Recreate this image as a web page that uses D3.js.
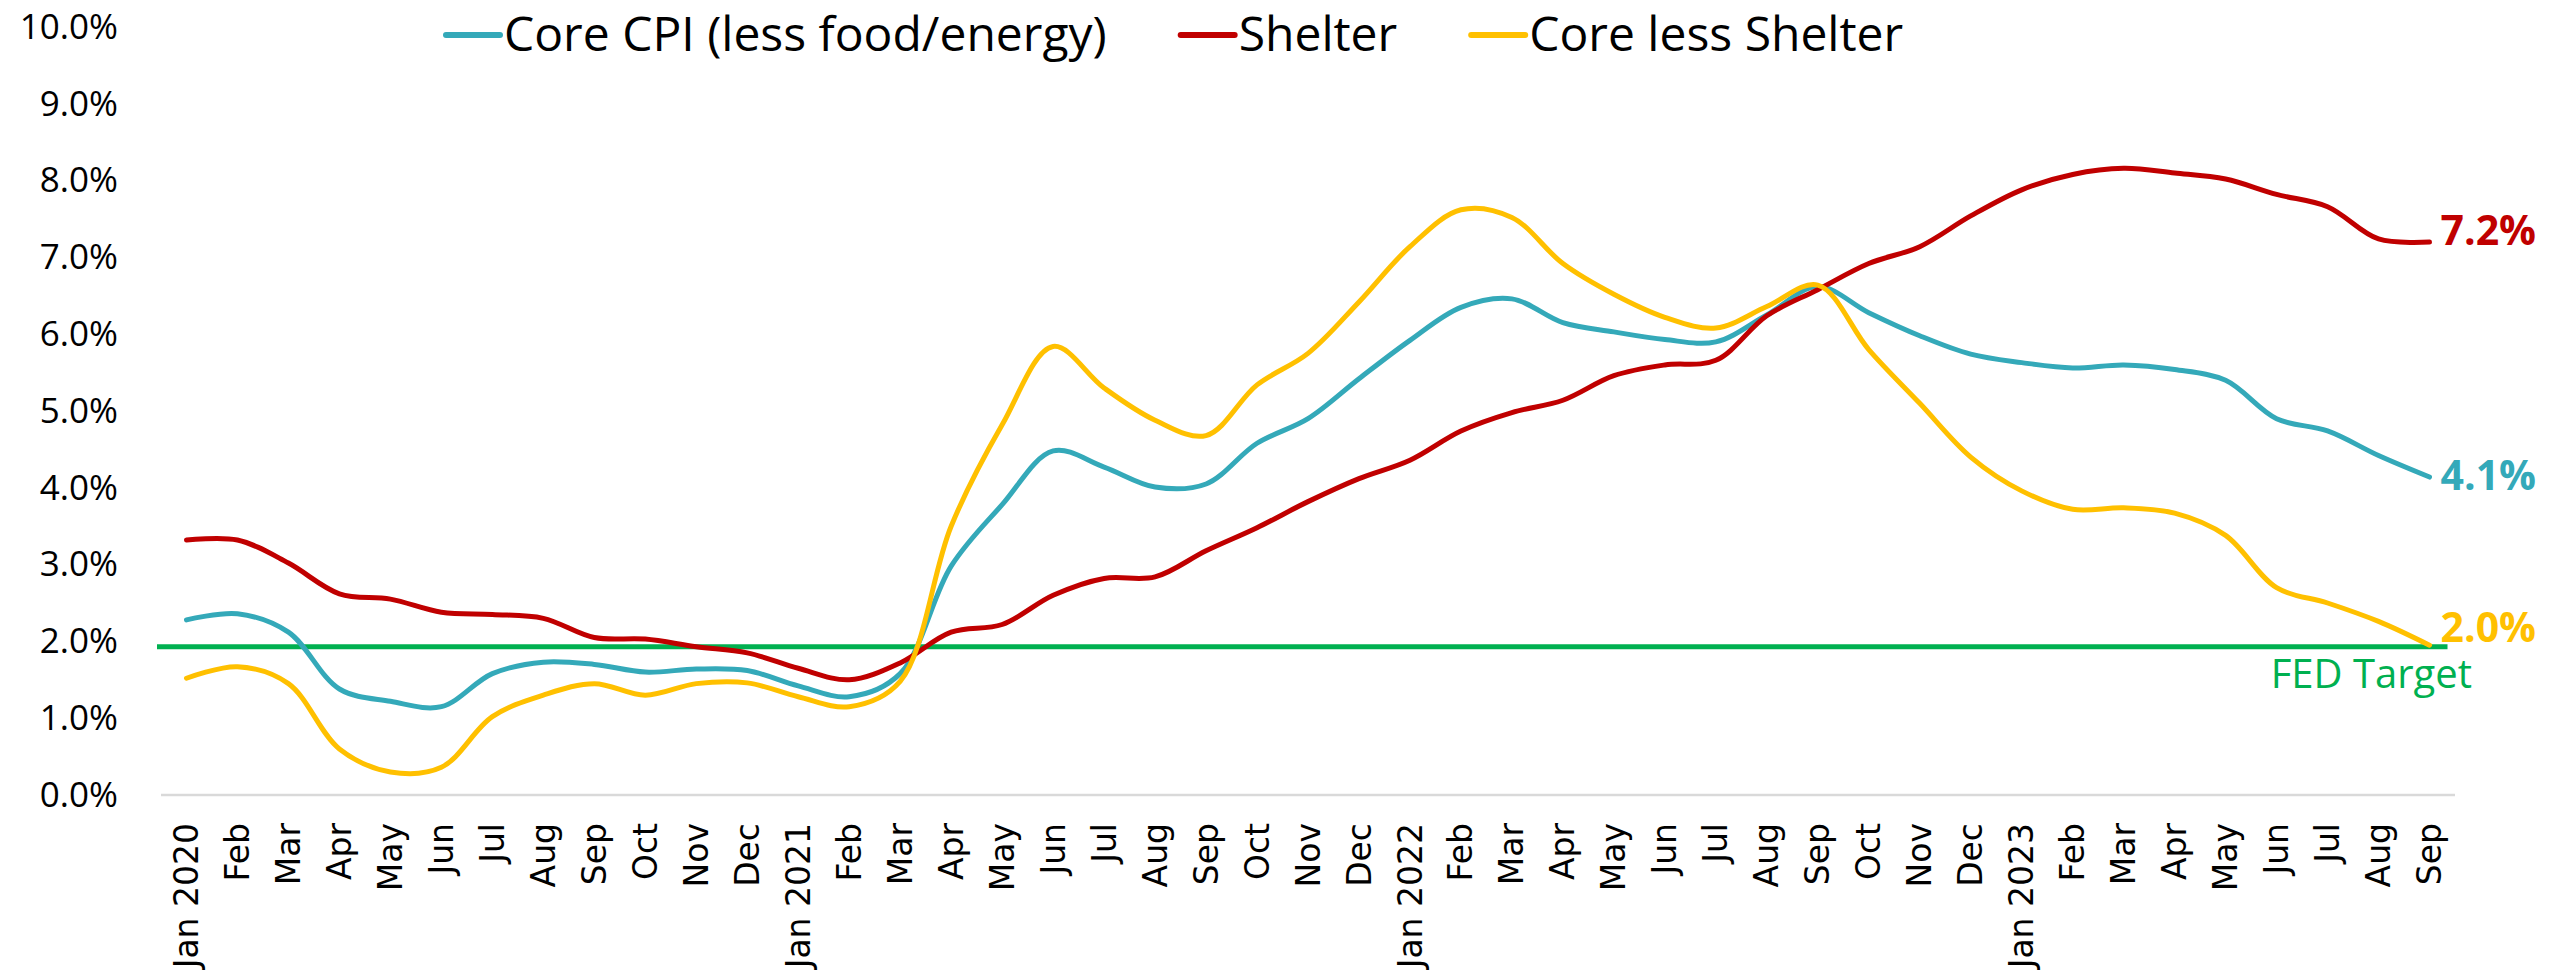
<!DOCTYPE html>
<html>
<head>
<meta charset="utf-8">
<script src="https://cdn.jsdelivr.net/npm/d3@7"></script>
<style>
  body { margin: 0; background: #fff; }
  svg { display: block; }
</style>
</head>
<body>
<div id="container"></div>
<script>
let width = 2552;
let height = 976;

// months Jan 2020 .. Sep 2023
let months = ["Jan 2020", "Feb", "Mar", "Apr", "May", "Jun", "Jul", "Aug", "Sep", "Oct", "Nov", "Dec",
  "Jan 2021", "Feb", "Mar", "Apr", "May", "Jun", "Jul", "Aug", "Sep", "Oct", "Nov", "Dec",
  "Jan 2022", "Feb", "Mar", "Apr", "May", "Jun", "Jul", "Aug", "Sep", "Oct", "Nov", "Dec",
  "Jan 2023", "Feb", "Mar", "Apr", "May", "Jun", "Jul", "Aug", "Sep"];

let coreCpi = [2.28, 2.36, 2.12, 1.38, 1.22, 1.15, 1.58, 1.73, 1.70, 1.60, 1.64, 1.62,
  1.42, 1.28, 1.58, 2.98, 3.78, 4.48, 4.27, 4.01, 4.05, 4.58, 4.90, 5.42,
  5.92, 6.35, 6.46, 6.15, 6.03, 5.93, 5.90, 6.25, 6.62, 6.28, 5.98, 5.74,
  5.63, 5.56, 5.60, 5.54, 5.40, 4.90, 4.74, 4.42, 4.14];

let shelter = [3.32, 3.32, 3.02, 2.62, 2.55, 2.38, 2.35, 2.30, 2.05, 2.03, 1.93, 1.85,
  1.65, 1.50, 1.72, 2.12, 2.22, 2.60, 2.82, 2.84, 3.18, 3.48, 3.82, 4.12,
  4.36, 4.74, 4.98, 5.14, 5.46, 5.60, 5.66, 6.24, 6.58, 6.92, 7.14, 7.54,
  7.88, 8.08, 8.16, 8.10, 8.02, 7.82, 7.66, 7.24, 7.20];

let coreLessShelter = [1.52, 1.67, 1.45, 0.60, 0.30, 0.36, 1.02, 1.30, 1.45, 1.30, 1.45, 1.46,
  1.28, 1.15, 1.48, 3.50, 4.82, 5.84, 5.30, 4.88, 4.68, 5.34, 5.75, 6.42,
  7.14, 7.62, 7.52, 6.92, 6.52, 6.22, 6.08, 6.36, 6.64, 5.80, 5.10, 4.40,
  3.96, 3.72, 3.74, 3.67, 3.38, 2.70, 2.50, 2.26, 1.95];

let seriesNames = ["Core CPI (less food/energy)", "Shelter", "Core less Shelter"];
let seriesColors = ["#34A9B9", "#C00000", "#FFC000"];
let endLabels = ["4.1%", "7.2%", "2.0%"];
let endLabelDy = [13, 3, -3];

let yTicks = [0, 1, 2, 3, 4, 5, 6, 7, 8, 9, 10];
let fedTarget = 1.93;

let svg = d3.select("#container")
  .append("svg")
  .attr("width", width)
  .attr("height", height);

let x = d3.scaleBand()
  .domain(d3.range(months.length))
  .range([161, 2455])
  .padding(0);

let y = d3.scaleLinear()
  .domain([0, 10])
  .range([795, 27]);

let px = function (i) { return x(i) + x.bandwidth() / 2 };

// y axis labels
let yAxis = d3.axisLeft(y)
  .tickValues(yTicks)
  .tickFormat(function (d) { return d.toFixed(1) + "%" })
  .tickSize(0)
  .tickPadding(0);

svg.append("g")
  .attr("transform", "translate(118,0)")
  .call(yAxis)
  .call(function (g) { g.select(".domain").remove() })
  .selectAll("text")
  .style("font-family", "'Open Sans'")
  .style("font-size", "35px")
  .attr("fill", "#000");

// baseline
svg.append("line")
  .attr("x1", x.range()[0]).attr("x2", x.range()[1])
  .attr("y1", y(0)).attr("y2", y(0))
  .attr("stroke", "#D9D9D9")
  .attr("stroke-width", 2.5);

// x axis labels
let xAxis = d3.axisBottom(x)
  .tickFormat(function (i) { return months[i] })
  .tickSize(0)
  .tickPadding(0);

svg.append("g")
  .attr("transform", `translate(0,${y(0)})`)
  .call(xAxis)
  .call(function (g) { g.select(".domain").remove() })
  .selectAll("text")
  .attr("transform", "rotate(-90)")
  .attr("x", -28)
  .attr("y", 0)
  .attr("dy", "0.35em")
  .attr("text-anchor", "end")
  .style("font-family", "'DejaVu Sans'")
  .style("font-size", "33px")
  .attr("fill", "#000");

// FED target
svg.append("line")
  .attr("x1", x.range()[0] - 4).attr("x2", px(months.length - 1) + 18)
  .attr("y1", y(fedTarget)).attr("y2", y(fedTarget))
  .attr("stroke", "#00B050")
  .attr("stroke-width", 5);

svg.append("text")
  .attr("x", 2472)
  .attr("y", y(fedTarget) + 41)
  .attr("text-anchor", "end")
  .style("font-family", "'Open Sans'")
  .style("font-size", "40px")
  .attr("fill", "#00B050")
  .text("FED Target");

let allSeries = [coreCpi, shelter, coreLessShelter];

let line = d3.line()
  .x(function (d, i) { return px(i) })
  .y(function (d) { return y(d) })
  .curve(d3.curveCatmullRom.alpha(0.5));

// draw order: core, shelter, core less shelter on top
allSeries.forEach(function (s, k) {
  svg.append("path")
    .datum(s)
    .attr("d", line)
    .attr("fill", "none")
    .attr("stroke", seriesColors[k])
    .attr("stroke-width", 5)
    .attr("stroke-linecap", "round")
    .attr("stroke-linejoin", "round");

  let last = s.length - 1;
  svg.append("text")
    .attr("x", px(last) + 11)
    .attr("y", y(s[last]) + endLabelDy[k])
    .style("font-family", "'Open Sans'")
    .style("font-weight", "bold")
    .style("font-size", "41px")
    .attr("fill", seriesColors[k])
    .text(endLabels[k]);
});

// legend
let lx = 446;
seriesNames.forEach(function (name, k) {
  svg.append("line")
    .attr("x1", lx).attr("x2", lx + 54)
    .attr("y1", 35).attr("y2", 35)
    .attr("stroke", seriesColors[k])
    .attr("stroke-width", 6)
    .attr("stroke-linecap", "round");
  let t = svg.append("text")
    .attr("x", lx + 58)
    .attr("y", 51)
    .style("font-family", "'Open Sans'")
    .style("font-size", "48px")
    .attr("fill", "#000")
    .text(name);
  lx = lx + 58 + t.node().getComputedTextLength() + 74;
});
</script>
</body>
</html>
